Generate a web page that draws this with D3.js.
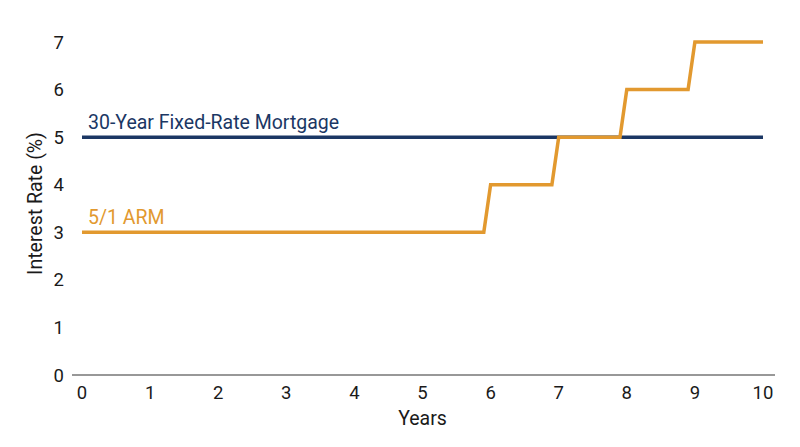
<!DOCTYPE html>
<html>
<head>
<meta charset="utf-8">
<script src="https://cdn.jsdelivr.net/npm/d3@7"></script>
<style>
  body { margin: 0; background: #fff; }
  svg text { font-family: Roboto, "Noto Sans", sans-serif; }
</style>
</head>
<body>
<svg id="chart" width="800" height="447"></svg>
<script>
// years and rates
const fixedYears = [0, 10];
const fixedRates = [5, 5];
const armYears = [0, 5.9, 6, 6.9, 7, 7.9, 8, 8.9, 9, 10];
const armRates = [3, 3, 4, 4, 5, 5, 6, 6, 7, 7];
const xTicks = [0, 1, 2, 3, 4, 5, 6, 7, 8, 9, 10];
const yTicks = [0, 1, 2, 3, 4, 5, 6, 7];

const navy = '#1b3764';
const orange = '#e2992f';

const svg = d3.select('svg#chart');
const x = d3.scaleLinear().domain([0, 10]).range([82, 763]);
const y = d3.scaleLinear().domain([0, 7]).range([375, 42]);

// x axis baseline + labels
svg.append('line')
  .attr('x1', 72).attr('x2', 775)
  .attr('y1', y(0)).attr('y2', y(0))
  .attr('stroke', '#333').attr('stroke-width', 1.2);

svg.append('g').selectAll('text').data(xTicks)
  .enter().append('text')
    .attr('x', d => x(d))
    .attr('y', 399)
    .attr('text-anchor', 'middle')
    .attr('font-size', 18.5)
    .attr('fill', '#1a1a1a')
    .text(d => d);

svg.append('g').selectAll('text').data(yTicks)
  .enter().append('text')
    .attr('x', 64)
    .attr('y', d => y(d) + 6.5)
    .attr('text-anchor', 'end')
    .attr('font-size', 18.5)
    .attr('fill', '#1a1a1a')
    .text(d => d);

svg.append('text')
  .attr('x', x(5)).attr('y', 425)
  .attr('text-anchor', 'middle')
  .attr('font-size', 19.5)
  .attr('fill', '#1a1a1a')
  .text('Years');

svg.append('text')
  .attr('transform', `translate(42,${(y(0) + y(7)) / 2 - 5}) rotate(-90)`)
  .attr('text-anchor', 'middle')
  .attr('font-size', 19.5)
  .attr('fill', '#1a1a1a')
  .text('Interest Rate (%)');

const line = d3.line()
  .x(d => x(d[0]))
  .y(d => y(d[1]));

svg.append('path')
  .datum(d3.zip(fixedYears, fixedRates))
  .attr('d', line)
  .attr('fill', 'none')
  .attr('stroke', navy)
  .attr('stroke-width', 3.5);

svg.append('path')
  .datum(d3.zip(armYears, armRates))
  .attr('d', line)
  .attr('fill', 'none')
  .attr('stroke', orange)
  .attr('stroke-width', 3.5)
  .attr('stroke-linejoin', 'miter');

// series labels
svg.append('text')
  .attr('x', 88).attr('y', y(5) - 8)
  .attr('font-size', 19.5)
  .attr('fill', navy)
  .text('30-Year Fixed-Rate Mortgage');

svg.append('text')
  .attr('x', 88).attr('y', y(3) - 8)
  .attr('font-size', 19.5)
  .attr('fill', orange)
  .text('5/1 ARM');
</script>
</body>
</html>
